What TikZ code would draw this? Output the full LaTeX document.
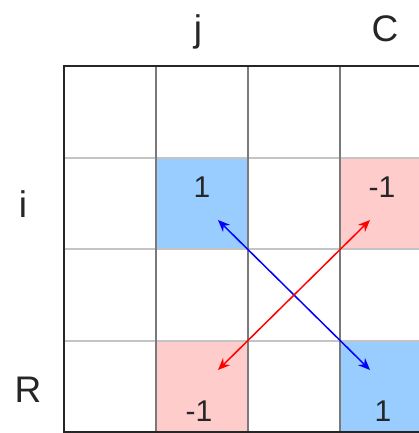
\documentclass[tikz,border=0pt]{standalone}
\usepackage{fontspec}
\setmainfont{Liberation Sans}
\usetikzlibrary{arrows.meta}
\definecolor{cellblue}{HTML}{99CCFF}
\definecolor{cellpink}{HTML}{FFCCCC}
\definecolor{hline}{HTML}{C4C4C4}
\definecolor{vline}{HTML}{7A7A7A}
\definecolor{arrblue}{HTML}{0000FF}
\definecolor{arrred}{HTML}{FF0000}
\tikzset{
  lbl/.style={font=\fontsize{37}{40}\selectfont, anchor=base, inner sep=0pt, text=black!85},
  num/.style={font=\fontsize{30}{33}\selectfont, anchor=base, inner sep=0pt, text=black!85},
  swap/.style={line width=1.5pt, {Stealth[length=12pt,width=10pt]}-{Stealth[length=12pt,width=10pt]}, shorten <=0pt, shorten >=0pt}
}
\begin{document}
\begin{tikzpicture}[x=1pt,y=-1pt]
\useasboundingbox (0,0) rectangle (419,433);
\clip (0,0) rectangle (419,433);
\fill[white] (0,0) rectangle (419,433);
% coloured cells
\fill[cellblue] (156,158) rectangle (248,249);
\fill[cellpink] (340,158) rectangle (432,249);
\fill[cellpink] (156,341) rectangle (248,432);
\fill[cellblue] (340,341) rectangle (432,432);
% grid lines
\foreach \y in {158,249,341} \draw[hline, line width=2pt] (64,\y) -- (432,\y);
\foreach \x in {156,248,340} \draw[vline, line width=1.8pt] (\x,66) -- (\x,432);
\draw[black!85, line width=2pt] (432,66) -- (64,66) -- (64,432) -- (432,432);
% labels
\node[lbl] (lj) at (198,42) {j};
\node[lbl] (lc) at (385,42) {C};
\node[lbl] (li) at (23,217) {i};
\node[lbl] (lr) at (28,402) {R};
% numbers
\node[num] (n1) at (202,197) {1};
\node[num] (n2) at (382,197) {-1};
\node[num] (n3) at (199,421) {-1};
\node[num] (n4) at (383,421) {1};
% arrows
\coordinate (b1) at (218,220);
\coordinate (b2) at (370,370);
\coordinate (r1) at (370,220);
\coordinate (r2) at (218,370);
\draw[swap, arrblue] (b1) -- (b2);
\draw[swap, arrred] (r1) -- (r2);
\end{tikzpicture}
\end{document}
